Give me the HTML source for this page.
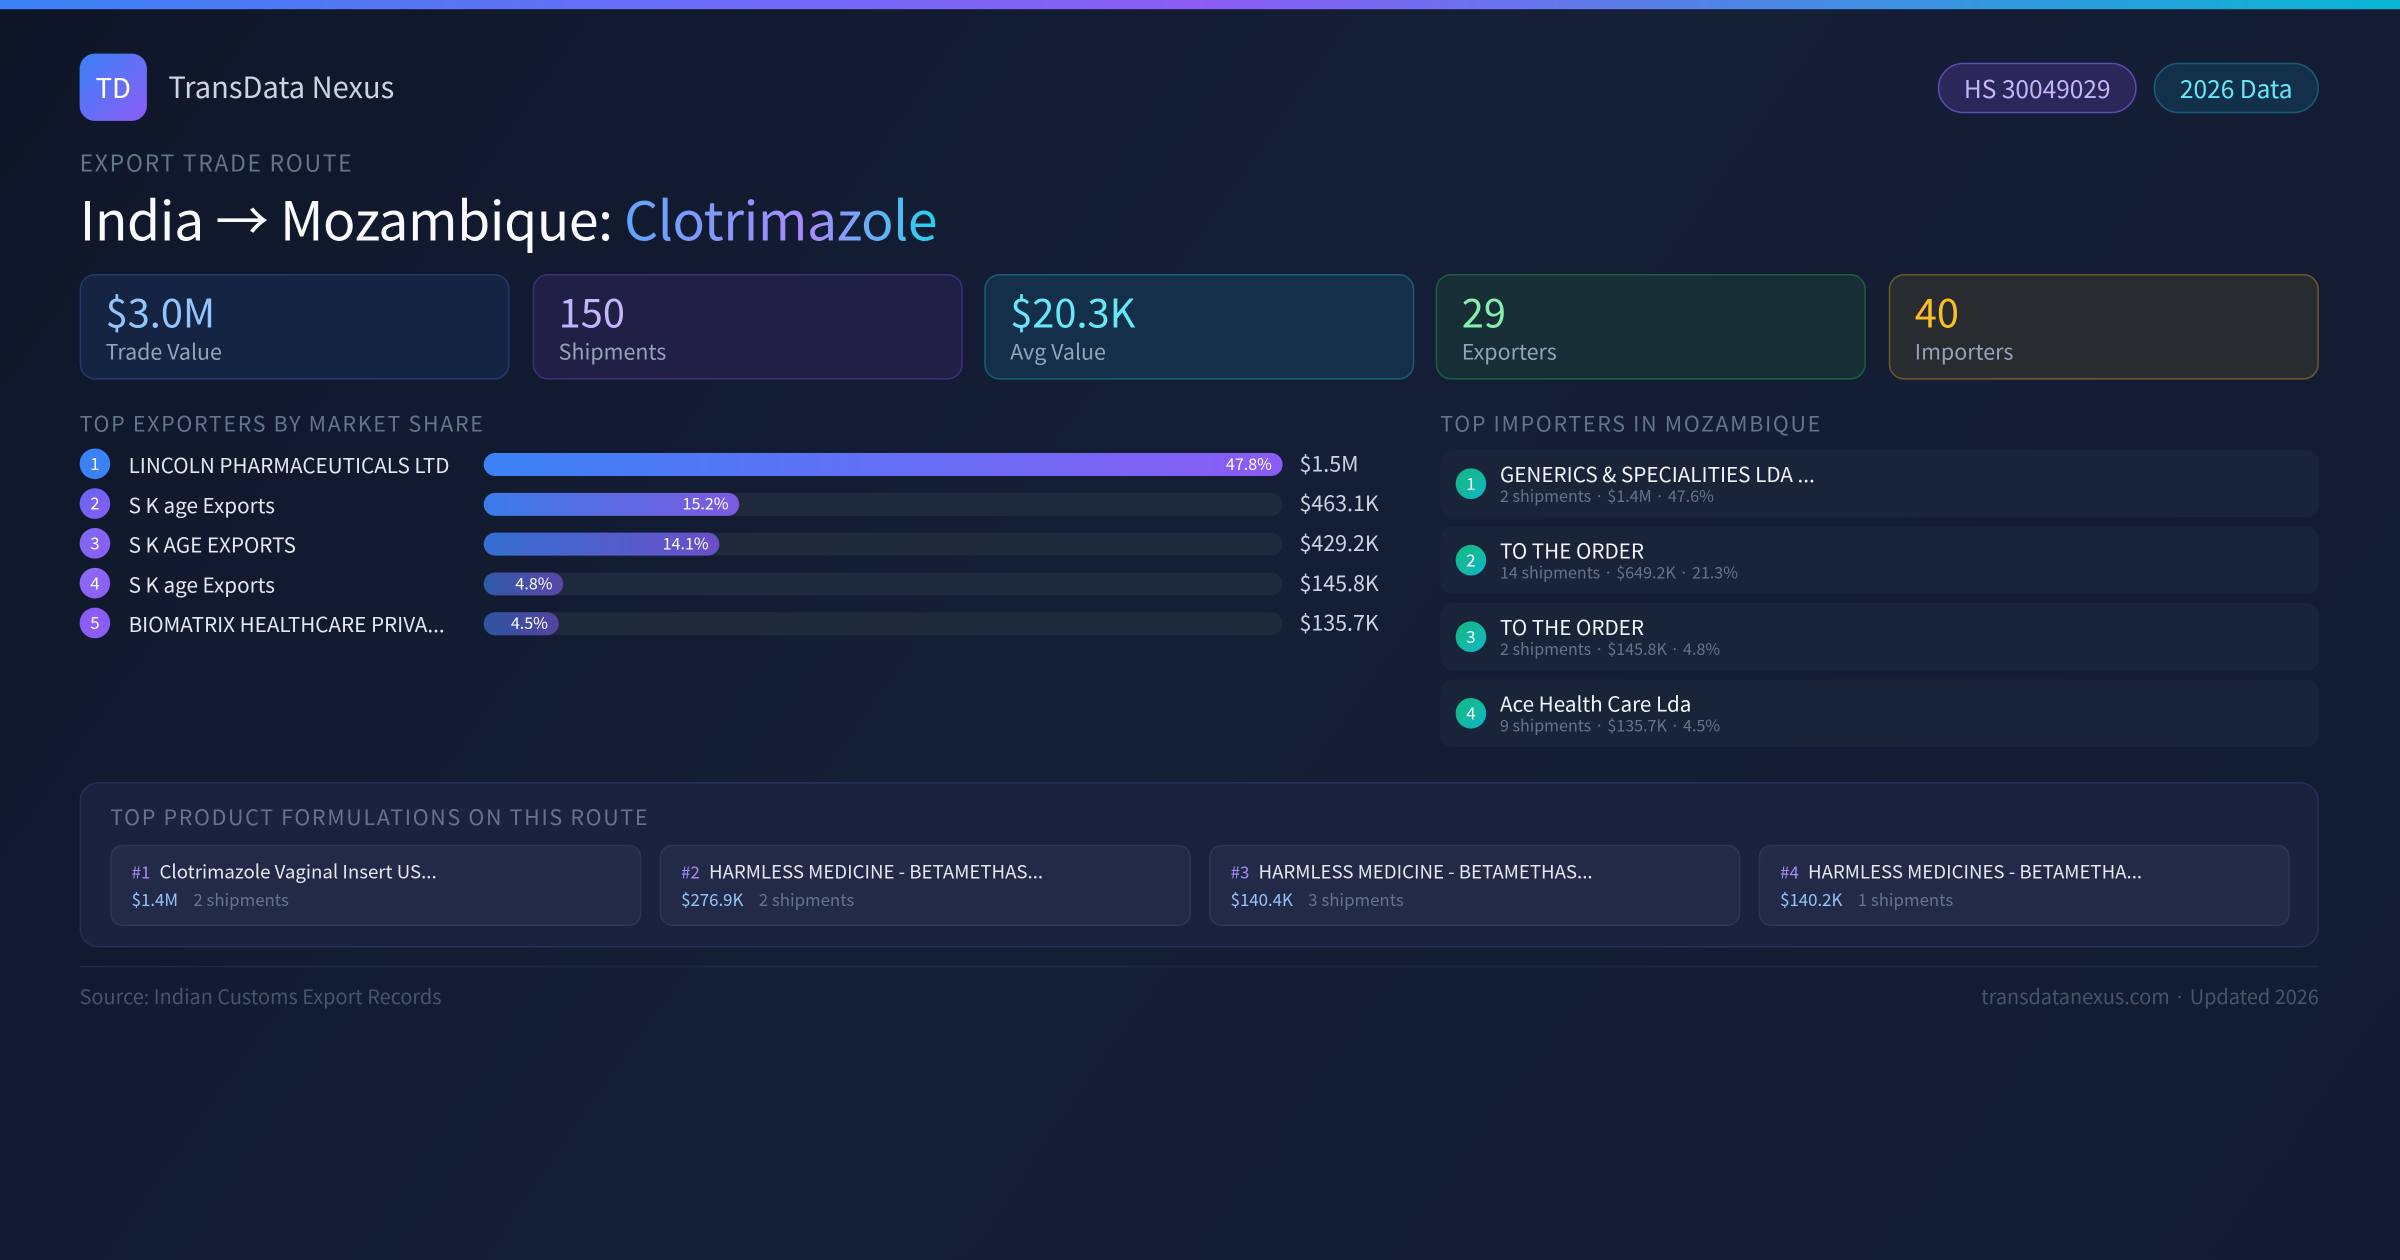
<!DOCTYPE html>
<html><head><meta charset="utf-8"><style>
*{margin:0;padding:0;box-sizing:border-box}
html,body{width:2400px;height:1260px;overflow:hidden;background:#0f172a}
#w{width:1568px;height:824px;transform:scale(1.530612);transform-origin:0 0;position:relative;line-height:1.2;
background:linear-gradient(125deg,#0f1628 0%,#141e36 45%,#121b31 100%);font-family:"Noto Sans CJK JP","Liberation Sans",sans-serif;color:#e2e8f0}
.a{position:absolute}
.top{left:0;top:0;width:1568px;height:6px;background:linear-gradient(90deg,#3b82f6,#8b5cf6 50%,#06b6d4)}
.logo{left:52px;top:35px;width:44px;height:44px;border-radius:10px;background:linear-gradient(135deg,#3b82f6,#8b5cf6);color:#fff;font-size:18px;line-height:44px;text-align:center}
.brand{left:110px;top:46px;font-size:19px;color:#cbd5e1}
.pill{top:41px;height:33px;border-radius:17px;font-size:16px;line-height:31px;text-align:center}
.lbl{font-size:14px;letter-spacing:1.1px;color:#64748b}
.card{top:179px;width:281px;height:69px;border-radius:10px;border:1px solid}
.card .v{position:absolute;left:16px;top:8px;font-size:26px}
.card .l{position:absolute;left:16px;top:42px;font-size:14px;color:#94a3b8}
.row{left:52px;height:20px;width:860px}
.c{position:absolute;left:0;top:0;width:20px;height:20px;border-radius:50%;color:#fff;font-size:11px;line-height:20px;text-align:center}
.n{position:absolute;left:32px;top:2px;font-size:13.5px;color:#e2e8f0;white-space:nowrap}
.tr{position:absolute;left:264px;top:3px;width:522px;height:15px;border-radius:8px;background:#1e293b}
.bar{position:absolute;left:0;top:0;height:15px;border-radius:8px;color:#fff;font-size:10.5px;line-height:15px;text-align:right;padding-right:7px}
.val{position:absolute;left:797px;top:2px;font-size:14px;color:#cbd5e1}
.imp{left:941px;width:574px;height:44px;border-radius:8px;background:#1a2438}
.imp .c{left:10px;top:12px;background:linear-gradient(135deg,#10b981,#14b8a6 60%,#06b6d4)}
.imp .t{position:absolute;left:39px;top:7px;font-size:13.5px;color:#f1f5f9}
.imp .s{position:absolute;left:39px;top:25px;font-size:10.5px;color:#64748b}
.pc{top:552px;width:347px;height:53px;border-radius:8px;background:#222a47;border:1px solid #2d3659}
.pc .t{position:absolute;left:13px;top:9px;font-size:12.2px;color:#e2e8f0;white-space:nowrap}
.pc .t b{font-weight:normal;color:#a78bfa;font-size:11px;margin-right:6px}
.pc .s{position:absolute;left:13px;top:29px;font-size:11px;color:#64748b}
.pc .s i{font-style:normal;color:#93c5fd;margin-right:10px}
</style></head><body><div id="w">
<div class="a top"></div>
<div class="a logo">TD</div>
<div class="a brand">TransData Nexus</div>
<div class="a pill" style="left:1266px;width:130px;background:#2a2858;border:1px solid #5b4bb5;color:#c4b5fd">HS 30049029</div>
<div class="a pill" style="left:1407px;width:108px;background:#13304a;border:1px solid #155e75;color:#67e8f9">2026 Data</div>
<div class="a lbl" style="left:52px;top:98px;font-size:15px">EXPORT TRADE ROUTE</div>
<div class="a" style="left:52px;top:122px;font-size:35px;letter-spacing:-0.3px;color:#f8fafc;white-space:nowrap">India → Mozambique: <span style="background:linear-gradient(90deg,#60a5fa,#a78bfa 60%,#22d3ee);-webkit-background-clip:text;background-clip:text;color:transparent">Clotrimazole</span></div>

<div class="a card" style="left:52px;background:#162443;border-color:#1f3a6b"><div class="v" style="color:#93c5fd">$3.0M</div><div class="l">Trade Value</div></div>
<div class="a card" style="left:348px;background:#201f46;border-color:#3b2f7a"><div class="v" style="color:#c4b5fd">150</div><div class="l">Shipments</div></div>
<div class="a card" style="left:643px;background:#142f4a;border-color:#155e75"><div class="v" style="color:#67e8f9">$20.3K</div><div class="l">Avg Value</div></div>
<div class="a card" style="left:938px;background:#172e37;border-color:#1d5e3d"><div class="v" style="color:#86efac">29</div><div class="l">Exporters</div></div>
<div class="a card" style="left:1234px;background:#282b30;border-color:#6b5a26"><div class="v" style="color:#fbbf24">40</div><div class="l">Importers</div></div>

<div class="a lbl" style="left:52px;top:269px">TOP EXPORTERS BY MARKET SHARE</div>
<div class="a lbl" style="left:941px;top:269px">TOP IMPORTERS IN MOZAMBIQUE</div>

<div class="a row" style="top:293px"><div class="c" style="background:#3b82f6">1</div><div class="n">LINCOLN PHARMACEUTICALS LTD</div><div class="tr"><div class="bar" style="width:522px;background:linear-gradient(90deg,#3b82f6,#8b5cf6)">47.8%</div></div><div class="val">$1.5M</div></div>
<div class="a row" style="top:319px"><div class="c" style="background:linear-gradient(135deg,#6366f1,#8b5cf6)">2</div><div class="n">S K age Exports</div><div class="tr"><div class="bar" style="width:167px;background:linear-gradient(90deg,#3b7be8,#7c5ae0)">15.2%</div></div><div class="val">$463.1K</div></div>
<div class="a row" style="top:345px"><div class="c" style="background:linear-gradient(135deg,#7c6cf0,#8b5cf6)">3</div><div class="n">S K AGE EXPORTS</div><div class="tr"><div class="bar" style="width:154px;background:linear-gradient(90deg,#356fd0,#6a4fc8)">14.1%</div></div><div class="val">$429.2K</div></div>
<div class="a row" style="top:371px"><div class="c" style="background:linear-gradient(135deg,#8b6cf6,#8b5cf6)">4</div><div class="n">S K age Exports</div><div class="tr"><div class="bar" style="width:52px;background:linear-gradient(90deg,#2f5aa8,#5a45a8)">4.8%</div></div><div class="val">$145.8K</div></div>
<div class="a row" style="top:397px"><div class="c" style="background:#8b5cf6">5</div><div class="n">BIOMATRIX HEALTHCARE PRIVA...</div><div class="tr"><div class="bar" style="width:49px;background:linear-gradient(90deg,#2d55a0,#5443a0)">4.5%</div></div><div class="val">$135.7K</div></div>

<div class="a imp" style="top:294px"><div class="c">1</div><div class="t">GENERICS &amp; SPECIALITIES LDA ...</div><div class="s">2 shipments · $1.4M · 47.6%</div></div>
<div class="a imp" style="top:344px"><div class="c">2</div><div class="t">TO THE ORDER</div><div class="s">14 shipments · $649.2K · 21.3%</div></div>
<div class="a imp" style="top:394px"><div class="c">3</div><div class="t">TO THE ORDER</div><div class="s">2 shipments · $145.8K · 4.8%</div></div>
<div class="a imp" style="top:444px"><div class="c">4</div><div class="t">Ace Health Care Lda</div><div class="s">9 shipments · $135.7K · 4.5%</div></div>

<div class="a" style="left:52px;top:511px;width:1463px;height:108px;border-radius:12px;background:#1b2240;border:1px solid #262f56"></div>
<div class="a lbl" style="left:72px;top:526px">TOP PRODUCT FORMULATIONS ON THIS ROUTE</div>
<div class="a pc" style="left:72px"><div class="t"><b>#1</b>Clotrimazole Vaginal Insert US...</div><div class="s"><i>$1.4M</i>2 shipments</div></div>
<div class="a pc" style="left:431px"><div class="t"><b>#2</b>HARMLESS MEDICINE - BETAMETHAS...</div><div class="s"><i>$276.9K</i>2 shipments</div></div>
<div class="a pc" style="left:790px"><div class="t"><b>#3</b>HARMLESS MEDICINE - BETAMETHAS...</div><div class="s"><i>$140.4K</i>3 shipments</div></div>
<div class="a pc" style="left:1149px"><div class="t"><b>#4</b>HARMLESS MEDICINES - BETAMETHA...</div><div class="s"><i>$140.2K</i>1 shipments</div></div>

<div class="a" style="left:52px;top:631px;width:1463px;height:1px;background:#1f2a40"></div>
<div class="a" style="left:52px;top:643px;font-size:13px;color:#475569">Source: Indian Customs Export Records</div>
<div class="a" style="right:53px;top:643px;font-size:13px;color:#475569">transdatanexus.com · Updated 2026</div>
</div></body></html>
